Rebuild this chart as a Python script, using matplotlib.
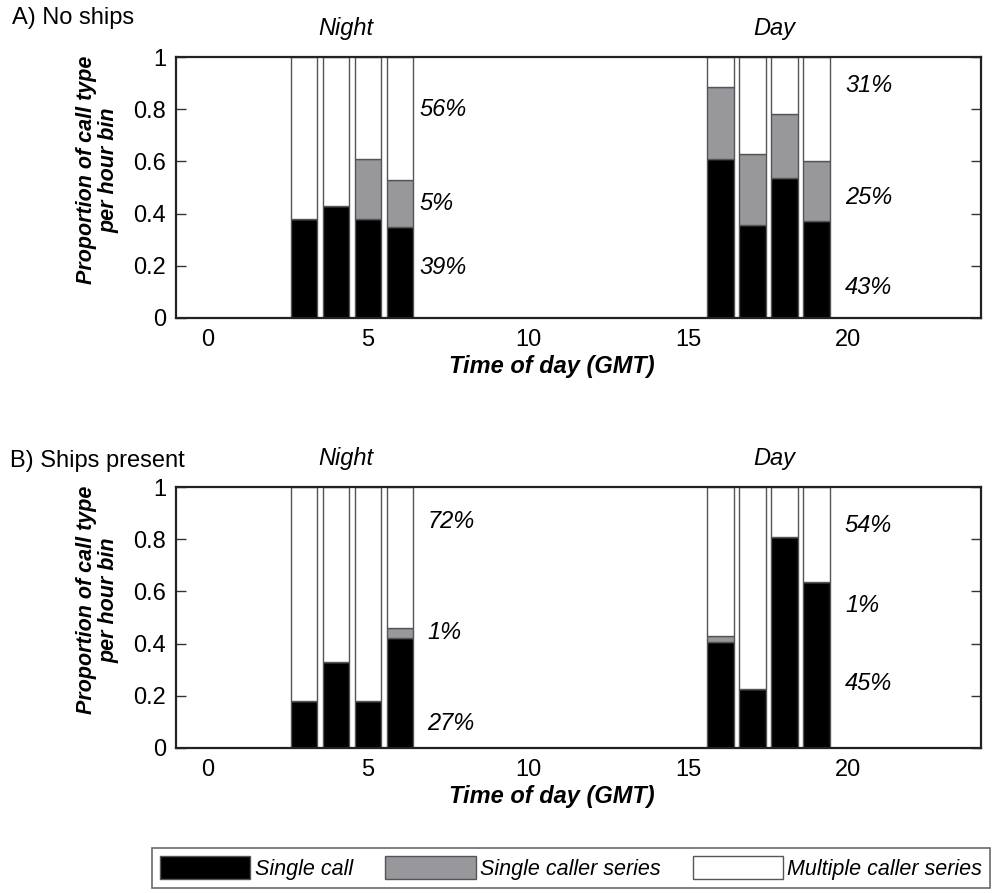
import matplotlib
matplotlib.use("Agg")
import matplotlib.pyplot as plt
import numpy as np

plt.rcParams['font.family'] = ['Liberation Sans', 'DejaVu Sans']

hours = [3, 4, 5, 6, 16, 17, 18, 19]
tick_vals = [0, 5, 10, 15, 20]
ytick_vals = [0, 0.2, 0.4, 0.6, 0.8, 1]
ytick_labels = ['0', '0.2', '0.4', '0.6', '0.8', '1']

# Panel A: No ships
a_single = [0.38, 0.43, 0.38, 0.35, 0.61, 0.355, 0.535, 0.37]
a_series = [0.0, 0.0, 0.23, 0.18, 0.275, 0.275, 0.245, 0.23]
# Panel B: Ships present
b_single = [0.18, 0.33, 0.18, 0.42, 0.405, 0.225, 0.81, 0.635]
b_series = [0.0, 0.0, 0.0, 0.04, 0.023, 0.0, 0.0, 0.0]

a_pct_night = ['56%', '5%', '39%']
a_pct_day = ['31%', '25%', '43%']
b_pct_night = ['72%', '1%', '27%']
b_pct_day = ['54%', '1%', '45%']

legend_labels = ['Single call', 'Single caller series', 'Multiple caller series']
colors = ['black', '#98989c', 'white']

W, H = 1008, 893
fig = plt.figure(figsize=(W / 100, H / 100), dpi=100)

def axes_px(left, top, right, bottom):
    return fig.add_axes([left / W, 1 - bottom / H, (right - left) / W, (bottom - top) / H])

axA = axes_px(176, 57, 981, 318)
axB = axes_px(176, 487, 981, 748)

FS = 17

def draw_panel(ax, single, series, pct_night, pct_day, pos_night, pos_day):
    single = np.array(single)
    series = np.array(series)
    multi = 1 - single - series
    handles = []
    for vals, bottom, c in [(single, 0, colors[0]), (series, single, colors[1]),
                            (multi, single + series, colors[2])]:
        h = ax.bar(hours, vals, bottom=bottom, width=0.84, color=c,
                   edgecolor='#555555', linewidth=1.0, zorder=2)
        handles.append(h)
    ax.set_xlim(-1, 24.15)
    ax.set_ylim(0, 1)
    ax.set_xticks(tick_vals)
    ax.set_xticklabels([str(t) for t in tick_vals], fontsize=FS)
    ax.set_yticks(ytick_vals)
    ax.set_yticklabels(ytick_labels, fontsize=FS)
    ax.tick_params(axis='x', length=0, pad=8)
    ax.tick_params(axis='y', direction='in', length=7, width=1, color='#333333',
                   right=True, pad=7)
    for s in ax.spines.values():
        s.set_linewidth(1.6)
        s.set_color('#222222')
        s.set_zorder(3)
    for (x, y), t in zip(pos_night, pct_night):
        ax.text(x, y, t, fontsize=FS, style='italic', ha='left', va='center')
    for (x, y), t in zip(pos_day, pct_day):
        ax.text(x, y, t, fontsize=FS, style='italic', ha='left', va='center')
    trans = ax.get_xaxis_transform()
    ax.text(4.3, 1.11, 'Night', transform=trans, fontsize=FS, style='italic',
            ha='center', va='center')
    ax.text(17.7, 1.11, 'Day', transform=trans, fontsize=FS, style='italic',
            ha='center', va='center')
    ax.text((552 - 176) / 805, -0.184, 'Time of day (GMT)', transform=ax.transAxes,
            fontsize=FS, style='italic', weight='bold', ha='center', va='center')
    ax.text(-0.0975, 0.567, 'Proportion of call type\nper hour bin', transform=ax.transAxes,
            fontsize=15.5, style='italic', weight='bold', ha='center', va='center',
            rotation=90, linespacing=1.1)
    return handles

hA = draw_panel(axA, a_single, a_series, a_pct_night, a_pct_day,
                [(6.6, 0.80), (6.6, 0.44), (6.6, 0.195)],
                [(19.9, 0.89), (19.9, 0.46), (19.9, 0.115)])
hB = draw_panel(axB, b_single, b_series, b_pct_night, b_pct_day,
                [(6.85, 0.866), (6.85, 0.444), (6.85, 0.095)],
                [(19.9, 0.853), (19.9, 0.547), (19.9, 0.248)])

fig.text(12 / W, 1 - 18 / H, 'A) No ships', fontsize=FS, ha='left', va='center')
fig.text(10 / W, 1 - 461 / H, 'B) Ships present', fontsize=FS, ha='left', va='center')

leg = fig.legend(hA, legend_labels, ncol=3, loc='upper left',
                 bbox_to_anchor=(152 / W, 1 - 848 / H), frameon=True, fancybox=False,
                 edgecolor='#444444', prop={'style': 'italic', 'size': 15.5},
                 handlelength=4.2, handleheight=1.3, handletextpad=0.2,
                 columnspacing=1.5, borderpad=0.37, borderaxespad=0)
leg.get_frame().set_linewidth(1.2)

fig.savefig('out.png', dpi=100)
